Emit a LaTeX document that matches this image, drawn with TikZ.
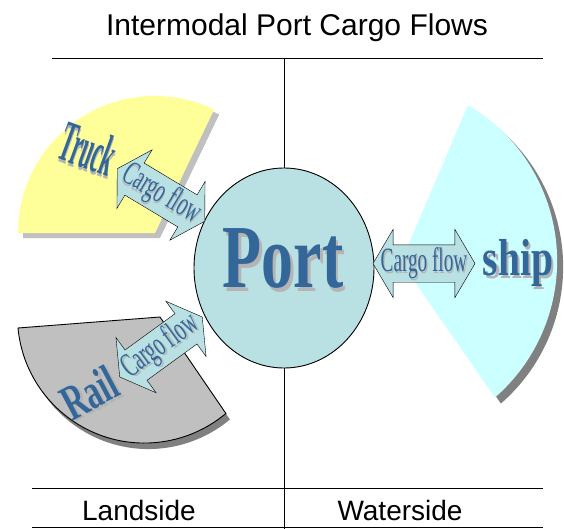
\documentclass[tikz,border=0pt]{standalone}
\usepackage{fontspec}
\setmainfont{Liberation Sans}
\newfontfamily\wordart{Liberation Serif}
\usepackage{graphicx}
\usetikzlibrary{shapes.geometric,shapes.arrows}

\definecolor{portfill}{HTML}{B9E0E3}
\definecolor{portblue}{HTML}{336699}
\definecolor{wordshade}{HTML}{B4B4B4}
\definecolor{truckfill}{HTML}{FFFF99}
\definecolor{railfill}{HTML}{C0C0C0}
\definecolor{shipfill}{HTML}{CCFFFF}
\definecolor{darkshade}{HTML}{808080}

% blue word with a grey copy slightly below and to the right
\newcommand{\shaded}[2][2pt]{\leavevmode\rlap{\kern#1\raisebox{-#1}{\textcolor{wordshade}{#2}}}\textcolor{portblue}{#2}}

\begin{document}
\begin{tikzpicture}[x=1pt,y=-1pt,line width=0.9pt,
    modetext/.style={font=\wordart\bfseries\fontsize{#1}{#1}\selectfont}]
    \tikzstyle{flowarrow}=[double arrow,draw=black,thin,fill=portfill,
      double arrow head extend=15.5pt,double arrow tip angle=119,
      minimum height=102pt,inner sep=0pt,text height=26pt,text depth=11pt,
      font=\wordart\fontsize{34}{34}\selectfont]
    \tikzstyle{sidetext}=[font=\fontsize{28}{28}\selectfont,anchor=base]

    \useasboundingbox (0,0) rectangle (564,529);

    % the three modes
    \fill[railfill,shift={(5,5)}] (155,233) -- (18,233)
      arc[start angle=180,end angle=295.6,radius=137] -- cycle;
    \fill[truckfill] (155,233) -- (18,233)
      arc[start angle=180,end angle=295.6,radius=137] -- cycle;

    \fill[darkshade,shift={(4,6)}] (160,317) -- (18,328)
      arc[start angle=174.6,end angle=50.1,radius=127] -- cycle;
    \filldraw[fill=railfill,draw=black] (160,317) -- (18,328)
      arc[start angle=174.6,end angle=50.1,radius=127] -- cycle;

    \fill[darkshade,shift={(6,6)}] (401,262) -- (468,105)
      arc[start angle=-59.5,end angle=49,radius=181] -- cycle;
    \fill[shipfill] (401,262) -- (468,105)
      arc[start angle=-59.5,end angle=49,radius=181] -- cycle;

    \node[modetext=58,rotate=-20] (truck) at (88,150)
      {\scalebox{0.37}[1]{\shaded[3pt]{Truck}}};
    \node[modetext=50,rotate=28] (rail) at (90,394)
      {\scalebox{0.64}[1]{\shaded[3pt]{Rail}}};
    \node[modetext=52,anchor=base] (ship) at (518,275)
      {\scalebox{0.76}[1]{\shaded[3pt]{ship}}};

    % frame
    \node[font=\fontsize{30}{30}\selectfont,anchor=base] (title) at (297,36)
      {Intermodal Port Cargo Flows};
    \node[sidetext] (landside) at (139,520) {Landside};
    \node[sidetext] (waterside) at (400,520) {Waterside};

    \coordinate (topleft) at (52,58);
    \coordinate (topright) at (543,58);
    \coordinate (divtop) at (284,58);
    \coordinate (divbottom) at (284,529);
    \coordinate (baseleft) at (32,488);
    \coordinate (baseright) at (543,488);
    \coordinate (footleft) at (32,527);
    \coordinate (footright) at (543,527);

    \node[ellipse,draw,fill=portfill,minimum width=180pt,minimum height=200pt,
      inner sep=0pt] (port) at (284,268) {};

    \draw (topleft) -- (topright);
    \draw (baseleft) -- (baseright);
    \draw (footleft) -- (footright);
    \draw (divtop) -- (port.north);
    \draw (port.south) -- (divbottom);

    \node[modetext=90,anchor=base] (portname) at (283,287)
      {\scalebox{0.71}[1]{\shaded[4pt]{Port}}};

    % cargo flows
    \node[flowarrow,rotate=-31] (truckflow) at (161,195)
      {\makebox[62pt]{\scalebox{0.565}[1]{\shaded{Cargo flow}}}};
    \node[flowarrow,rotate=36] (railflow) at (161,347)
      {\makebox[62pt]{\scalebox{0.565}[1]{\shaded{Cargo flow}}}};
    \node[flowarrow] (shipflow) at (424,263.5)
      {\makebox[62pt]{\scalebox{0.565}[1]{\shaded{Cargo flow}}}};
\end{tikzpicture}
\end{document}
